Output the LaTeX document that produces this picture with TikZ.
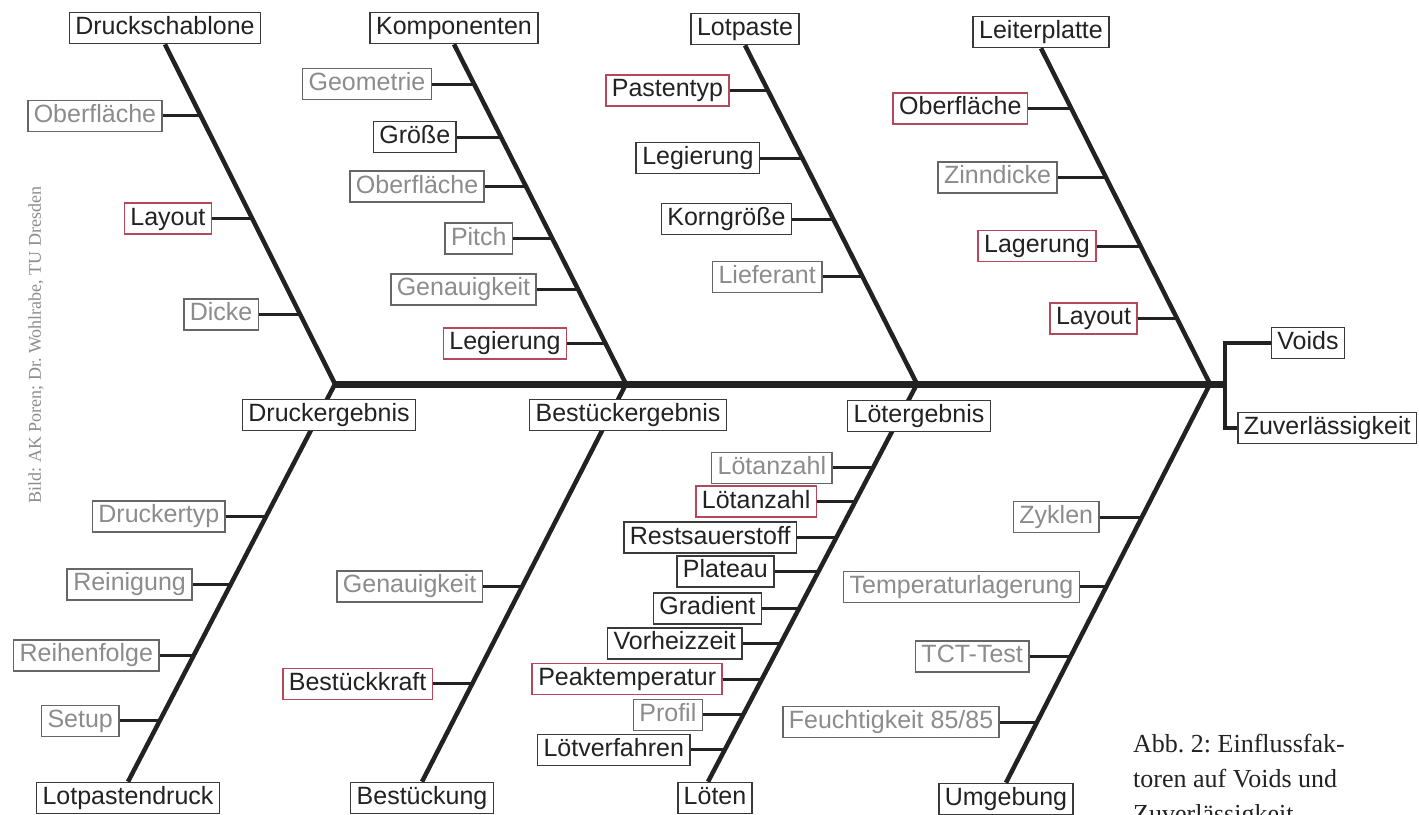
\documentclass[tikz,border=0pt]{standalone}
\usepackage{fontspec}
\setmainfont{Liberation Sans}
\newfontfamily\capfont{Liberation Serif}
\usetikzlibrary{calc}
\definecolor{inkc}{HTML}{222222}
\definecolor{framec}{HTML}{3A3A3A}
\definecolor{grayt}{HTML}{8C8C8C}
\definecolor{grayf}{HTML}{666666}
\definecolor{redf}{HTML}{B5485A}
\newcommand{\fishtwig}[7][box]{%
  \coordinate (#2p) at ($(#3)!#5!(#4)$);
  \node[#1, anchor=east] (#2) at ([xshift=-#6pt]#2p) {#7};
  \draw[twigline] (#2) -- (#2p);
}
\frenchspacing
\begin{document}
\begin{tikzpicture}[x=1pt,y=-1pt,
  box/.style={draw=framec, line width=1.6pt, fill=white, text=inkc,
    font=\fontsize{25}{28}\selectfont, inner xsep=6pt, inner ysep=4pt,
    text height=18pt, text depth=5pt},
  graybox/.style={box, draw=grayf, text=grayt},
  redbox/.style={box, draw=redf},
  spine/.style={line width=7pt, draw=inkc},
  bone/.style={line width=4.5pt, draw=inkc},
  twigline/.style={line width=3pt, draw=inkc},
]
\useasboundingbox (0,0) rectangle (1419,814);
\clip (0,0) rectangle (1419,814);

% head boxes
\node[box] (ds) at (165,28) {Druckschablone};
\node[box] (ko) at (454,28) {Komponenten};
\node[box] (lp) at (745,29) {Lotpaste};
\node[box] (lpl) at (1041,32) {Leiterplatte};
\node[box] (lpd) at (128,798) {Lotpastendruck};
\node[box] (bst) at (422,798) {Bestückung};
\node[box] (lt) at (715,798) {Löten};
\node[box] (ug) at (1006,799) {Umgebung};
\node[box] (vo) at (1308,343) {Voids};
\node[box,anchor=west] (zu) at (1237,428) {Zuverlässigkeit};

\coordinate (J1) at (335,384);
\coordinate (J2) at (626,384);
\coordinate (J3) at (917,384);
\coordinate (J4) at (1210,384);
\coordinate (bk) at (1225,384);
\coordinate (L3) at ([xshift=-7pt]lt.north);

% bones
\draw[bone] (ds.south) -- (J1);
\draw[bone] (ko.south) -- (J2);
\draw[bone] (lp.south) -- (J3);
\draw[bone] (lpl.south) -- (J4);
\draw[bone] (J1) -- (lpd.north);
\draw[bone] (J2) -- (bst.north);
\draw[bone] (J3) -- (L3);
\draw[bone] (J4) -- (ug.north);
\draw[spine] (J1) -- (bk);
\draw[bone] (vo.west) -| (bk) |- (zu.west);

% result boxes over the bones
\node[box] (de) at (329,415) {Druckergebnis};
\node[box] (be) at (628,415) {Bestückergebnis};
\node[box] (le) at (919,416) {Lötergebnis};

% Druckschablone
\fishtwig[graybox]{t11}{ds.south}{J1}{0.211}{38}{Oberfläche}
\fishtwig[redbox]{t12}{ds.south}{J1}{0.513}{40}{Layout}
\fishtwig[graybox]{t13}{ds.south}{J1}{0.795}{41}{Dicke}
% Komponenten
\fishtwig[graybox]{t21}{ko.south}{J2}{0.117}{42}{Geometrie}
\fishtwig[box]{t22}{ko.south}{J2}{0.273}{44}{Größe}
\fishtwig[graybox]{t23}{ko.south}{J2}{0.419}{41}{Oberfläche}
\fishtwig[graybox]{t24}{ko.south}{J2}{0.572}{39}{Pitch}
\fishtwig[graybox]{t25}{ko.south}{J2}{0.721}{41}{Genauigkeit}
\fishtwig[redbox]{t26}{ko.south}{J2}{0.880}{38}{Legierung}
% Lotpaste
\fishtwig[redbox]{t31}{lp.south}{J3}{0.133}{38}{Pastentyp}
\fishtwig[box]{t32}{lp.south}{J3}{0.333}{42}{Legierung}
\fishtwig[box]{t33}{lp.south}{J3}{0.513}{41}{Korngröße}
\fishtwig[graybox]{t34}{lp.south}{J3}{0.684}{40}{Lieferant}
% Leiterplatte
\fishtwig[redbox]{t41}{lpl.south}{J4}{0.179}{43}{Oberfläche}
\fishtwig[graybox]{t42}{lpl.south}{J4}{0.384}{48}{Zinndicke}
\fishtwig[redbox]{t43}{lpl.south}{J4}{0.589}{44}{Lagerung}
\fishtwig[redbox]{t44}{lpl.south}{J4}{0.804}{39}{Layout}
% Lotpastendruck
\fishtwig[graybox]{b11}{J1}{lpd.north}{0.333}{40}{Druckertyp}
\fishtwig[graybox]{b12}{J1}{lpd.north}{0.504}{38}{Reinigung}
\fishtwig[graybox]{b13}{J1}{lpd.north}{0.682}{34}{Reihenfolge}
\fishtwig[graybox]{b14}{J1}{lpd.north}{0.847}{40}{Setup}
% Bestückung
\fishtwig[graybox]{b21}{J2}{bst.north}{0.509}{39}{Genauigkeit}
\fishtwig[redbox]{b22}{J2}{bst.north}{0.754}{39}{Bestückkraft}
% Löten
\fishtwig[graybox]{b31}{J3}{L3}{0.211}{40}{Lötanzahl}
\fishtwig[redbox]{b32}{J3}{L3}{0.296}{38}{Lötanzahl}
\fishtwig[box]{b33}{J3}{L3}{0.386}{39}{Restsauerstoff}
\fishtwig[box]{b34}{J3}{L3}{0.471}{44}{Plateau}
\fishtwig[box]{b35}{J3}{L3}{0.564}{37}{Gradient}
\fishtwig[box]{b36}{J3}{L3}{0.652}{38}{Vorheizzeit}
\fishtwig[redbox]{b37}{J3}{L3}{0.742}{39}{Peaktemperatur}
\fishtwig[graybox]{b38}{J3}{L3}{0.832}{40}{Profil}
\fishtwig[box]{b39}{J3}{L3}{0.920}{34}{Lötverfahren}
% Umgebung
\fishtwig[graybox]{b41}{J4}{ug.north}{0.334}{42}{Zyklen}
\fishtwig[graybox]{b42}{J4}{ug.north}{0.509}{26}{Temperaturlagerung}
\fishtwig[graybox]{b43}{J4}{ug.north}{0.683}{41}{TCT-Test}
\fishtwig[graybox]{b44}{J4}{ug.north}{0.848}{37}{Feuchtigkeit 85/85}

% caption and source
\node[font=\capfont\fontsize{26}{35}\selectfont, text=inkc, align=left,
  anchor=north west, inner sep=0pt] (cap) at (1133,734)
  {Abb. 2: Einflussfak-\\toren auf Voids und\\Zuverlässigkeit};
\node[font=\capfont\fontsize{18}{20}\selectfont, text=grayt, rotate=90,
  inner sep=0pt] (src) at (36,345) {Bild: AK Poren; Dr. Wohlrabe, TU Dresden};
\end{tikzpicture}
\end{document}
